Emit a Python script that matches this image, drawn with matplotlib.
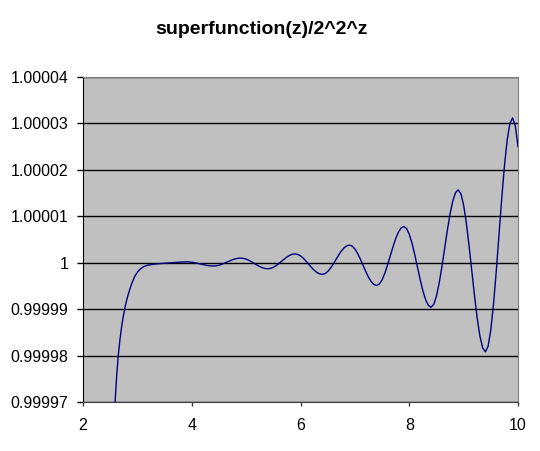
import numpy as np
import matplotlib
matplotlib.use("Agg")
from matplotlib import pyplot as plt

plt.rcParams['font.family'] = ['Liberation Sans', 'DejaVu Sans']

# z values and deviation from 1 (in units of 1e-5)
z = [2.55, 2.59, 2.62, 2.65, 2.68, 2.71, 2.74, 2.78, 2.80, 2.83, 2.86, 2.89,
     2.92, 2.95, 2.98, 3.01, 3.05, 3.10, 3.15, 3.20, 3.30, 3.40, 3.50, 3.60,
     3.70, 3.80, 3.85, 3.90,
     3.95, 4.0, 4.05, 4.1, 4.15, 4.2, 4.25, 4.3, 4.35, 4.4,
     4.45, 4.5, 4.55, 4.6, 4.65, 4.7, 4.75, 4.8, 4.85, 4.9,
     4.95, 5.0, 5.05, 5.1, 5.15, 5.2, 5.25, 5.3, 5.35, 5.4,
     5.45, 5.5, 5.55, 5.6, 5.65, 5.7, 5.75, 5.8, 5.85, 5.9,
     5.95, 6.0, 6.05, 6.1, 6.15, 6.2, 6.25, 6.3, 6.35, 6.4,
     6.45, 6.5, 6.55, 6.6, 6.65, 6.7, 6.75, 6.8, 6.85, 6.9,
     6.95, 7.0, 7.05, 7.1, 7.15, 7.2, 7.25, 7.3, 7.35, 7.4,
     7.45, 7.5, 7.55, 7.6, 7.65, 7.7, 7.75, 7.8, 7.85, 7.9,
     7.95, 8.0, 8.05, 8.1, 8.15, 8.2, 8.25, 8.3, 8.35, 8.4,
     8.45, 8.5, 8.55, 8.6, 8.65, 8.7, 8.75, 8.8, 8.85, 8.9,
     8.95, 9.0, 9.05, 9.1, 9.15, 9.2, 9.25, 9.3, 9.35, 9.4,
     9.45, 9.5, 9.55, 9.6, 9.65, 9.7, 9.75, 9.8, 9.85, 9.9,
     9.95, 10.0]
dev = [-3.8, -3.0, -2.42, -1.98, -1.65, -1.38, -1.16, -0.92, -0.82, -0.69, -0.575, -0.47,
       -0.38, -0.30, -0.24, -0.19, -0.14, -0.095, -0.068, -0.05, -0.032, -0.02, -0.012, -0.004,
       0.006, 0.015, 0.018, 0.02,
       0.018, 0.011, 0.001, -0.011, -0.025, -0.039, -0.051, -0.061, -0.068, -0.07,
       -0.066, -0.054, -0.035, -0.011, 0.015, 0.041, 0.065, 0.084, 0.096, 0.10,
       0.094, 0.078, 0.053, 0.021, -0.015, -0.051, -0.083, -0.108, -0.124, -0.13,
       -0.122, -0.099, -0.064, -0.019, 0.03, 0.079, 0.124, 0.159, 0.182, 0.19,
       0.179, 0.148, 0.099, 0.038, -0.03, -0.098, -0.159, -0.208, -0.239, -0.25,
       -0.235, -0.19, -0.12, -0.032, 0.065, 0.162, 0.25, 0.32, 0.365, 0.38,
       0.359, 0.297, 0.201, 0.079, -0.055, -0.189, -0.311, -0.407, -0.469, -0.49,
       -0.459, -0.369, -0.228, -0.051, 0.145, 0.341, 0.518, 0.659, 0.749, 0.78,
       0.737, 0.614, 0.422, 0.179, -0.09, -0.359, -0.602, -0.794, -0.917, -0.96,
       -0.898, -0.718, -0.439, -0.086, 0.305, 0.696, 1.049, 1.328, 1.508, 1.57,
       1.484, 1.237, 0.851, 0.364, -0.175, -0.714, -1.201, -1.587, -1.834, -1.92,
       -1.797, -1.439, -0.882, -0.179, 0.6, 1.379, 2.082, 2.639, 2.997, 3.12,
       2.95, 2.5]

yticks = [0.99997, 0.99998, 0.99999, 1.0, 1.00001, 1.00002, 1.00003, 1.00004]
ylabels = ["0.99997", "0.99998", "0.99999", "1", "1.00001", "1.00002", "1.00003", "1.00004"]
xticks = [2, 4, 6, 8, 10]

y = 1 + np.array(dev) * 1e-5

fig = plt.figure(figsize=(5.4, 4.51), dpi=100)
ax = fig.add_axes([0.1537, 0.1086, 0.8056, 0.7206])
ax.set_facecolor('#c0c0c0')

ax.plot(z, y, color='#000080', lw=1.0, zorder=3)

ax.set_xlim(2, 10)
ax.set_ylim(0.99997, 1.00004)
ax.set_yticks(yticks)
ax.set_yticklabels(ylabels)
ax.set_xticks(xticks)
ax.set_xticklabels([str(t) for t in xticks])

ax.grid(axis='y', color='black', lw=1.0, zorder=1)
ax.set_axisbelow(True)

ax.tick_params(axis='y', length=4, width=1, pad=6.5, labelsize=11.5, color='black')
ax.tick_params(axis='x', length=3, width=1, pad=8.5, labelsize=11.5, color='#404040')

ax.spines['left'].set_color('black')
ax.spines['bottom'].set_color('#404040')
ax.spines['top'].set_color('#808080')
ax.spines['right'].set_color('#808080')

fig.text(262 / 540, 1 - 30 / 451, "superfunction(z)/2^2^z", ha='center', va='center',
         fontsize=14, fontweight='bold')

fig.savefig('out.png', dpi=100)
